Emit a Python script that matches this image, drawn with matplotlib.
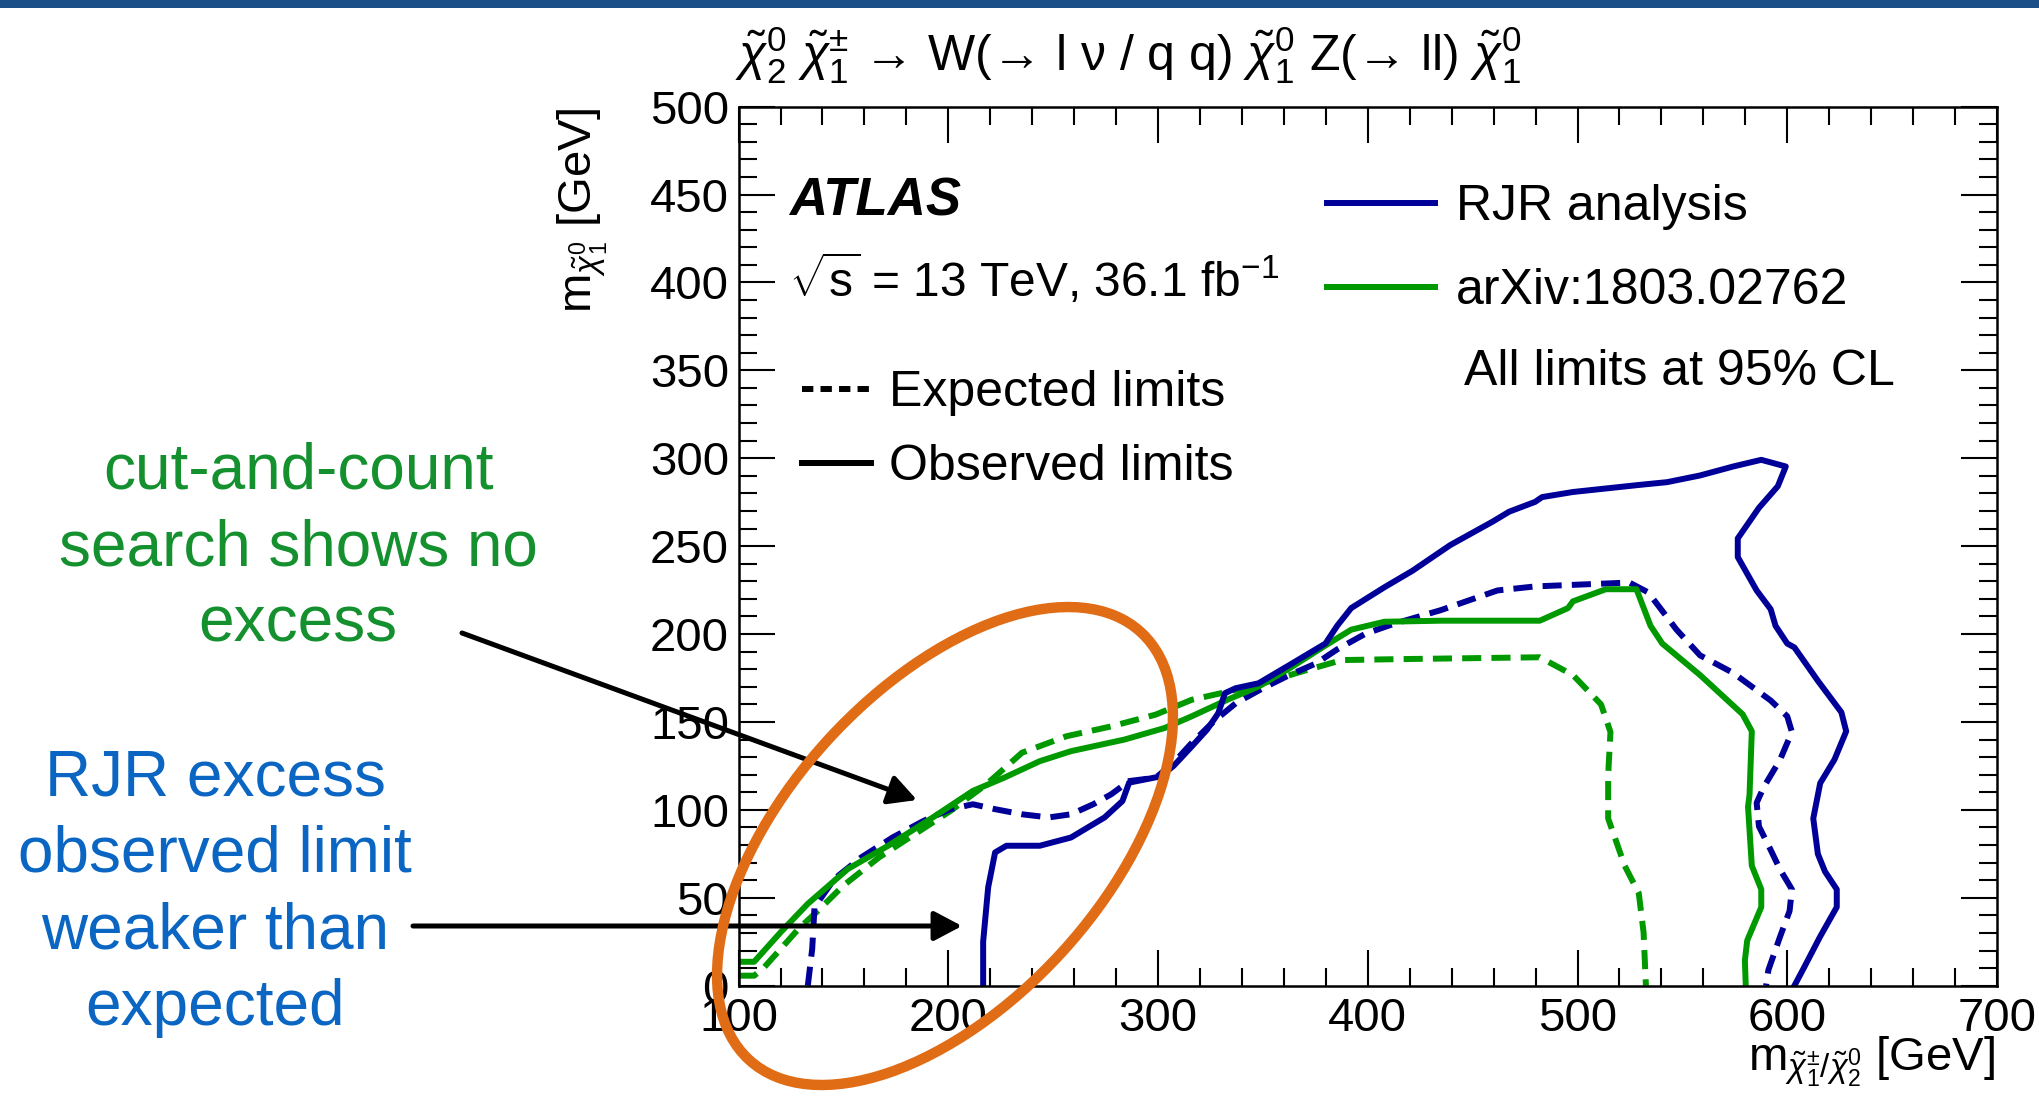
import matplotlib
matplotlib.use("Agg")
import matplotlib.pyplot as plt
from matplotlib.lines import Line2D
from matplotlib.patches import Ellipse, FancyArrowPatch, Rectangle
from matplotlib.ticker import MultipleLocator
from matplotlib.transforms import Affine2D

plt.rcParams["font.family"] = ["Liberation Sans", "DejaVu Sans"]
plt.rcParams["mathtext.fontset"] = "custom"
plt.rcParams["mathtext.rm"] = "Liberation Sans"
plt.rcParams["mathtext.it"] = "Liberation Sans:italic"
plt.rcParams["mathtext.bf"] = "Liberation Sans:bold"

# exclusion contours, m(chargino/neutralino2) vs m(LSP) in GeV
rjr_obs_x = [216.6, 216.6, 219.0, 222.3, 227.7, 243.6, 258.5, 274.5, 283.0, 286.2, 301.0, 307.4,
             316.0, 323.4, 328.7, 331.9, 337.0, 347.9, 362.8, 379.8, 385.4, 392.1, 407.9, 421.3,
             439.3, 459.6, 467.4, 479.8, 483.1, 497.8, 529.2, 542.7, 558.4, 574.2, 587.6, 599.3,
             595.5, 586.5, 576.4, 576.4, 585.4, 592.1, 594.4, 600.0, 603.4, 614.6, 625.8, 628.1,
             622.5, 615.7, 612.4, 614.6, 618.0, 623.6, 623.6, 615.7, 607.9, 603.4]
rjr_obs_y = [0, 25, 56, 75.8, 79.6, 79.6, 84.3, 95.7, 105, 115.5, 119, 125,
             136, 145.7, 155, 166.4, 169.2, 172, 182.5, 194.6, 204.7, 214.8, 226.6, 236,
             250.6, 264, 269.6, 275.2, 277.9, 280.8, 284.8, 286.4, 290.2, 295.3, 299.1, 295.3,
             284.1, 271.8, 254.4, 243.8, 224.8, 214.1, 204.7, 194.6, 192.4, 173.4, 155.5, 144.7,
             128.6, 115.2, 95.1, 74.9, 64.9, 54.8, 44.7, 28, 10.1, 0]

rjr_exp_x = [133.0, 135.1, 136.2, 145.7, 158.5, 173.4, 188.3, 201.0, 211.7, 222.3, 235.1, 247.9,
             258.5, 269.1, 277.7, 286.2, 298.9, 307.4, 316.0, 326.6, 337.2, 350.0, 362.8, 375.5,
             385.4, 398.9, 412.4, 434.8, 461.8, 479.8, 502.2, 524.7, 533.7, 547.2, 558.4, 574.2,
             592.1, 600.0, 602.2, 596.6, 588.8, 585.4, 586.5, 592.1, 596.6, 602.2, 601.1, 596.6,
             591.0, 589.9]
rjr_exp_y = [0, 21, 44.7, 60.8, 73, 84.3, 93.8, 100.4, 103.2, 100.4, 97.5, 95.7,
             97.5, 103.2, 108.9, 116.4, 118.3, 126.8, 138, 150.4, 160.8, 169.2, 176.8, 183.4,
             191.3, 200.2, 205.8, 213.6, 224.8, 227.1, 228.2, 229.3, 223.7, 202.5, 187.9, 177.9,
             162.2, 153.2, 144.3, 128.6, 113, 104, 90.6, 77.2, 66, 54.8, 42.5, 28,
             8.9, 0]

cc_obs_x = [100.0, 107.4, 120.2, 133.0, 152.1, 171.3, 192.6, 211.7, 226.6, 243.6, 258.5, 284.0,
            303.2, 316.0, 333.0, 348.0, 362.8, 379.8, 392.1, 407.9, 434.8, 482.0, 495.5, 497.8,
            513.5, 528.1, 534.8, 540.4, 558.4, 578.7, 583.1, 582.0, 581.3, 583.1, 587.6, 587.6,
            580.9, 579.8, 580.2]
cc_obs_y = [13.6, 13.6, 30.6, 46.6, 66.4, 79.6, 95.7, 110.8, 118.3, 127.7, 133.4, 140,
            146.6, 153.2, 162.6, 170.2, 180.6, 193.5, 202.5, 207, 207.6, 207.6, 214.8, 218.6,
            225.5, 225.5, 204.7, 194.6, 176.7, 154.4, 144.7, 108.5, 101.8, 68.2, 54.8, 44.7,
            25.7, 14.5, 0]

cc_exp_x = [100.0, 107.4, 111.7, 120.2, 128.7, 137.2, 150.0, 167.0, 184.0, 201.0, 218.1, 235.1,
            256.4, 277.7, 298.9, 316.0, 337.2, 350.0, 367.4, 387.6, 412.4, 482.0, 497.8, 511.2,
            515.7, 514.6, 514.6, 522.5, 529.2, 531.5, 532.6]
cc_exp_y = [5.7, 5.7, 9.8, 21.1, 32.5, 41.9, 57, 73, 86.2, 99.4, 114.5, 132.5,
            141.9, 147.5, 154.2, 162.6, 168.3, 172, 178.3, 185.2, 185.7, 186.8, 176.7, 160,
            144.3, 119.7, 95.1, 68.2, 52.6, 30.2, 0]

BLUE = "#000099"
GREEN = "#009900"
LW = 4.3
DASH = (3.2, 1.7)
FS = 34
FS_KEY = 36

W, H, DPI = 2039, 1117, 100
fig = plt.figure(figsize=(W / DPI, H / DPI), dpi=DPI)
# pixel coordinates, origin top-left
px = Affine2D().scale(1 / DPI, -1 / DPI).translate(0, H / DPI) + fig.dpi_scale_trans

fig.add_artist(Rectangle((0, 0), W, 8, transform=px, color="#1b4f87", lw=0))

ax = fig.add_axes([738.6 / W, 1 - 985.7 / H, (1997 - 738.6) / W, (985.7 - 106.6) / H])
ax.plot(cc_exp_x, cc_exp_y, color=GREEN, lw=LW, ls=(0, DASH))
ax.plot(rjr_exp_x, rjr_exp_y, color=BLUE, lw=LW, ls=(0, DASH))
ax.plot(cc_obs_x, cc_obs_y, color=GREEN, lw=LW)
ax.plot(rjr_obs_x, rjr_obs_y, color=BLUE, lw=LW)

ax.set_xlim(100, 700)
ax.set_ylim(0, 500)
ax.xaxis.set_major_locator(MultipleLocator(100))
ax.xaxis.set_minor_locator(MultipleLocator(20))
ax.yaxis.set_major_locator(MultipleLocator(50))
ax.yaxis.set_minor_locator(MultipleLocator(10))
ax.tick_params(which="both", direction="in", top=True, right=True, width=1.5, labelsize=FS)
ax.tick_params(which="major", length=26)
ax.tick_params(which="minor", length=13)
ax.tick_params(axis="x", pad=8)
ax.tick_params(axis="y", pad=7)
for s in ax.spines.values():
    s.set_linewidth(1.8)

# title and axis titles
fig.text(735, 70, r"$\tilde{\chi}^{0}_{2}$ $\tilde{\chi}^{\pm}_{1}$ → W(→ l $\mathrm{\nu}$ / q q) "
         r"$\tilde{\chi}^{0}_{1}$ Z(→ ll) $\tilde{\chi}^{0}_{1}$",
         transform=px, fontsize=36, ha="left", va="baseline")
fig.text(1995, 1071, r"m$_{\tilde{\chi}^{\pm}_{1}/\tilde{\chi}^{0}_{2}}$ [GeV]",
         transform=px, fontsize=FS, ha="right", va="baseline")
fig.text(592, 107, r"m$_{\tilde{\chi}^{0}_{1}}$ [GeV]", transform=px, fontsize=FS,
         rotation=90, rotation_mode="anchor", ha="right", va="baseline")

# labels inside the frame
fig.text(789, 216, "ATLAS", transform=px, fontsize=38, fontweight="bold", fontstyle="italic")
fig.text(789, 297, r"$\sqrt{\mathrm{s}}$ = 13 TeV, 36.1 fb$^{-1}$", transform=px, fontsize=34.5)

style_rows = [("Expected limits", (0, (1.9, 1.2)), 389), ("Observed limits", "-", 463)]
for label, ls, y in style_rows:
    fig.add_artist(Line2D([802, 871], [y, y], transform=px, color="black", lw=LW, ls=ls))
    fig.text(889, y + 17, label, transform=px, fontsize=FS_KEY)

source_rows = [("RJR analysis", BLUE, 203), ("arXiv:1803.02762", GREEN, 287)]
for label, color, y in source_rows:
    fig.add_artist(Line2D([1327, 1435], [y, y], transform=px, color=color, lw=LW))
    fig.text(1456, y + 17, label, transform=px, fontsize=FS_KEY)
fig.text(1464, 385, "All limits at 95% CL", transform=px, fontsize=FS_KEY)

# commentary around the low-mass region
fig.text(298, 548, "cut-and-count\nsearch shows no\nexcess", transform=px, fontsize=46,
         color="#14902f", ha="center", va="center", linespacing=1.35)
fig.text(215, 893, "RJR excess\nobserved limit\nweaker than\nexpected", transform=px, fontsize=46,
         color="#0a66c2", ha="center", va="center", linespacing=1.35)

for tail, tip in [((462, 633), (917, 800)), ((413, 926), (962, 926))]:
    fig.add_artist(FancyArrowPatch(tail, tip, transform=px, color="black", lw=3.6,
                                   arrowstyle="-|>,head_length=0.85,head_width=0.45",
                                   mutation_scale=20, shrinkA=0, shrinkB=0))

fig.add_artist(Ellipse((945, 846), 580, 316, angle=-47.5, transform=px, fill=False,
                       edgecolor="#e06c16", lw=7.5))

fig.savefig("out.png", dpi=DPI)
